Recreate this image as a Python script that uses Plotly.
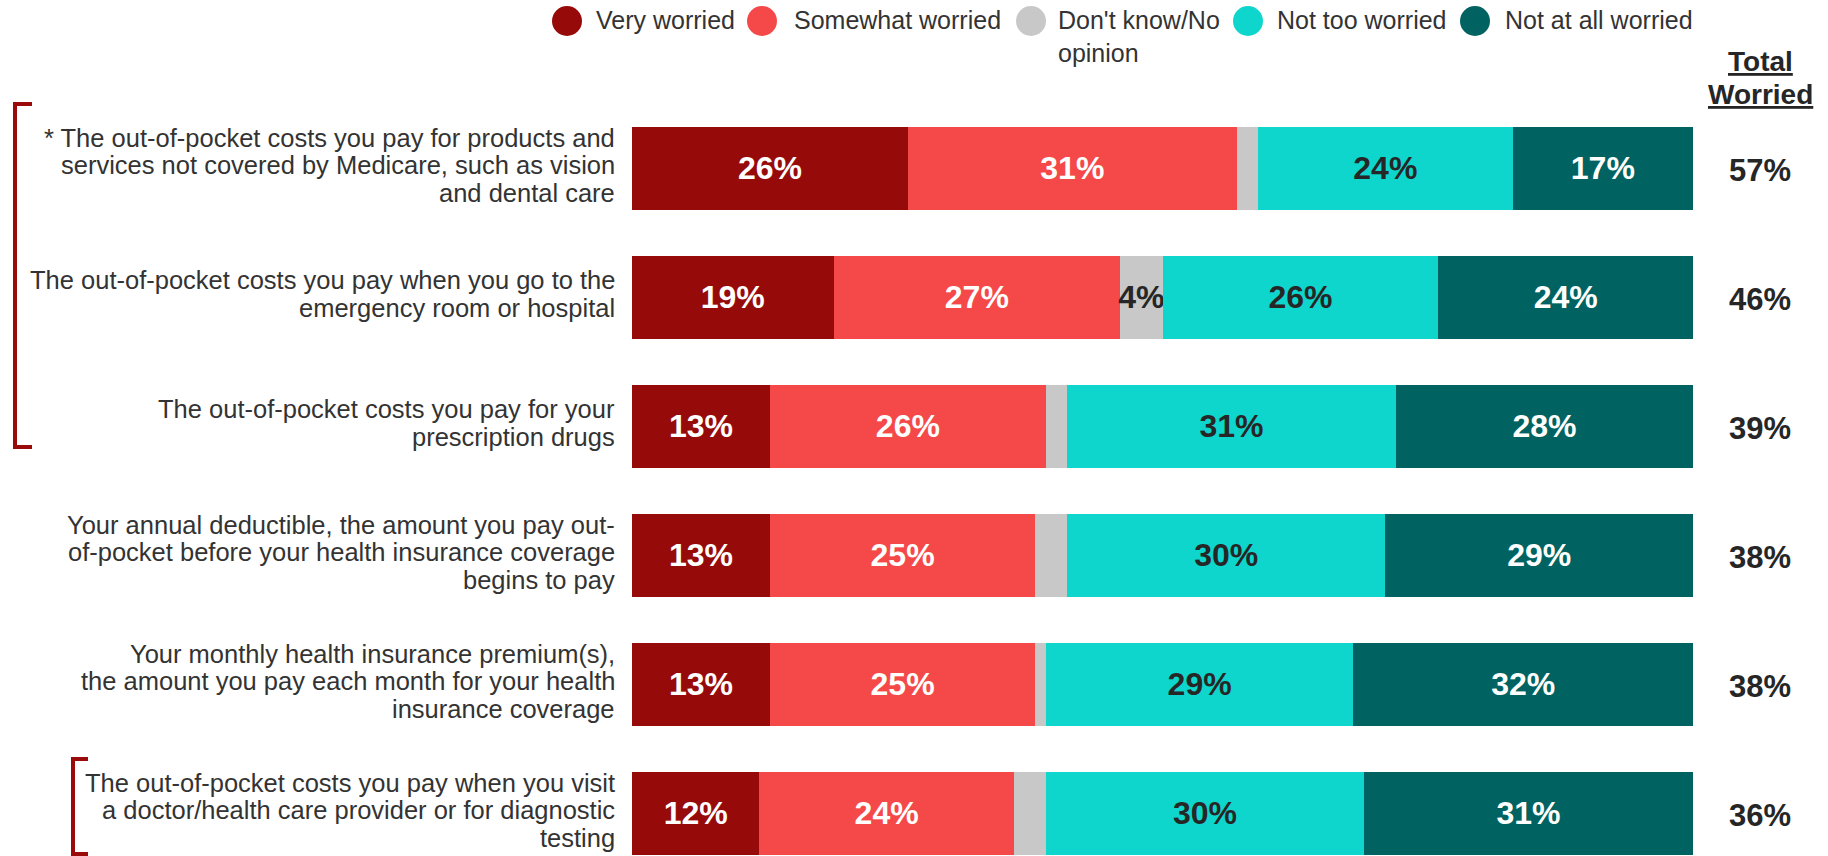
import plotly.graph_objects as go

# Survey items (one list of lines per item, top to bottom)
categories = [
    ["* The out-of-pocket costs you pay for products and",
     "services not covered by Medicare, such as vision",
     "and dental care"],
    ["The out-of-pocket costs you pay when you go to the",
     "emergency room or hospital"],
    ["The out-of-pocket costs you pay for your",
     "prescription drugs"],
    ["Your annual deductible, the amount you pay out-",
     "of-pocket before your health insurance coverage",
     "begins to pay"],
    ["Your monthly health insurance premium(s),",
     "the amount you pay each month for your health",
     "insurance coverage"],
    ["The out-of-pocket costs you pay when you visit",
     "a doctor/health care provider or for diagnostic",
     "testing"],
]

series_names = ["Very worried", "Somewhat worried", "Don't know/No<br>opinion",
                "Not too worried", "Not at all worried"]
very_worried = [26, 19, 13, 13, 13, 12]
somewhat_worried = [31, 27, 26, 25, 25, 24]
dont_know = [2, 4, 2, 3, 1, 3]
not_too_worried = [24, 26, 31, 30, 29, 30]
not_at_all_worried = [17, 24, 28, 29, 32, 31]
total_worried = [57, 46, 39, 38, 38, 36]

# which "Don't know" segments carry a label
dont_know_labelled = [False, True, False, False, False, False]

colors = ["#960A0A", "#F54848", "#C8C8C8", "#0ED6CD", "#006361"]
label_colors = ["#FFFFFF", "#FFFFFF", "#262626", "#262626", "#FFFFFF"]

FONT = "Liberation Sans, Arial, sans-serif"
W, H = 1828, 856
L, R, T, B = 632, 135, 65, 0
PW, PH = W - L - R, H - T - B


def px_to_paper(px, py):
    return (px - L) / PW, (H - B - py) / PH


rows = list(range(len(categories)))
values = [very_worried, somewhat_worried, dont_know, not_too_worried, not_at_all_worried]

fig = go.Figure()
for k, (name, vals) in enumerate(zip(series_names, values)):
    if k == 2:
        texts = [f"{v}%" if show else "" for v, show in zip(vals, dont_know_labelled)]
    else:
        texts = [f"{v}%" for v in vals]
    fig.add_trace(go.Bar(
        x=vals, y=rows, orientation="h", name=name,
        marker=dict(color=colors[k], line=dict(width=0)),
        width=0.645,
        text=texts, textposition="inside", insidetextanchor="middle",
        textangle=0, constraintext="none",
        insidetextfont=dict(family=FONT, size=32, color=label_colors[k], weight="bold"),
        showlegend=False, hoverinfo="skip",
    ))

annotations = []

# item labels, right-aligned left of the bars
LINE_H = 27.7
for i, lines in enumerate(categories):
    n = len(lines)
    for j, line in enumerate(lines):
        annotations.append(dict(
            x=0, y=i, xref="x", yref="y", xanchor="right", yanchor="middle",
            xshift=-15, yshift=-((j - (n - 1) / 2) * LINE_H) + 3,
            text=line, showarrow=False,
            font=dict(family=FONT, size=25.5, color="#333333"),
        ))

# total worried column
for i, tot in enumerate(total_worried):
    annotations.append(dict(
        x=100, y=i, xref="x", yref="y", xanchor="center", yanchor="middle",
        xshift=67, yshift=-2, text=f"<b>{tot}%</b>", showarrow=False,
        font=dict(family=FONT, size=31, color="#262626"),
    ))
for txt, py in [("Total", 61), ("Worried", 94)]:
    px, pyp = px_to_paper(1760, py)
    annotations.append(dict(
        x=px, y=pyp, xref="paper", yref="paper", xanchor="center", yanchor="middle",
        text=f"<b><u>{txt}</u></b>", showarrow=False,
        font=dict(family=FONT, size=28, color="#262626"),
    ))

# legend row
shapes = []
legend_circle_x = [567, 762, 1031, 1248, 1475]
legend_text_x = [594, 792, 1056, 1275, 1503]
for k, name in enumerate(series_names):
    cx, cy = px_to_paper(legend_circle_x[k], 21)
    shapes.append(dict(
        type="circle", xref="paper", yref="paper",
        xsizemode="pixel", ysizemode="pixel", xanchor=cx, yanchor=cy,
        x0=-15, x1=15, y0=-15, y1=15,
        fillcolor=colors[k], line=dict(width=0),
    ))
    tx, ty = px_to_paper(legend_text_x[k], 4)
    annotations.append(dict(
        x=tx, y=ty, xref="paper", yref="paper", xanchor="left", yanchor="top",
        text=name, showarrow=False, align="left",
        font=dict(family=FONT, size=25, color="#333333"),
    ))

# brackets grouping the out-of-pocket items
def bracket(x_px, y0_px, y1_px, tip_px):
    xa, ya = px_to_paper(x_px, y0_px)
    xb, yb = px_to_paper(tip_px, y1_px)
    return dict(
        type="path", xref="paper", yref="paper",
        path=f"M {xb},{ya} L {xa},{ya} L {xa},{yb} L {xb},{yb}",
        line=dict(color="#9B0A0A", width=4),
    )


shapes.append(bracket(15, 104, 447, 32))
shapes.append(bracket(73, 759, 854, 88))

fig.update_layout(
    width=W, height=H,
    margin=dict(l=L, r=R, t=T, b=B, pad=0),
    barmode="stack",
    plot_bgcolor="white", paper_bgcolor="white",
    xaxis=dict(range=[0, 100], visible=False, fixedrange=True),
    yaxis=dict(range=[5.33, -0.8], visible=False, fixedrange=True),
    uniformtext=dict(minsize=32, mode="show"),
    annotations=annotations, shapes=shapes,
    font=dict(family=FONT),
)

fig.write_html("out.html")
